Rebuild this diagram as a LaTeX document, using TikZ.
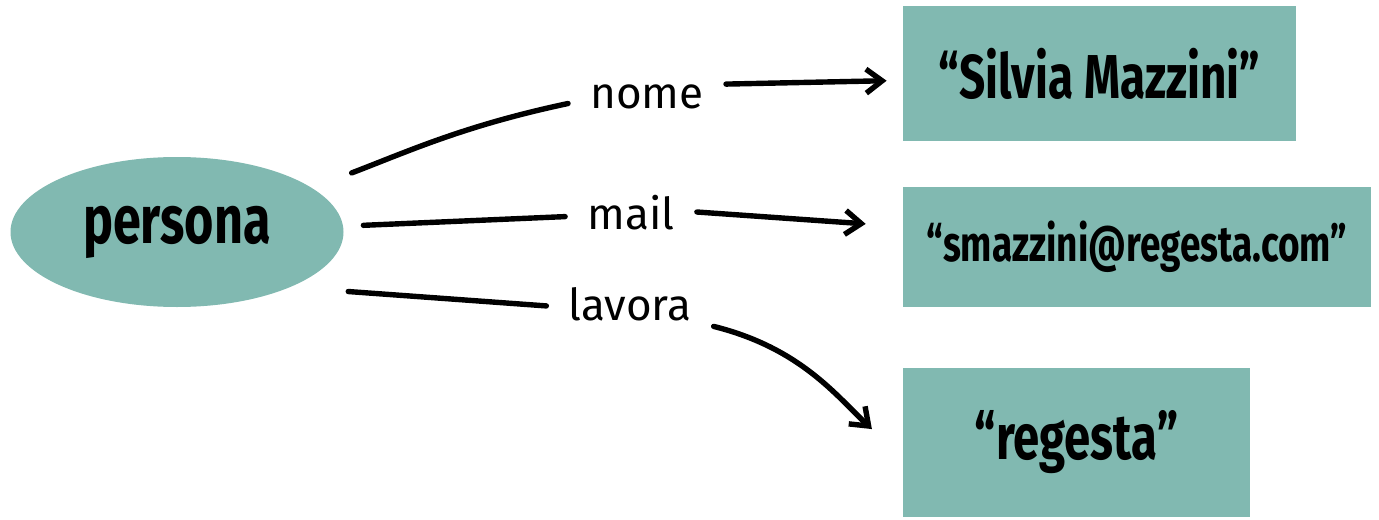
\documentclass[tikz,border=0pt]{standalone}
\usepackage{fontspec}
\setmainfont{Fira Sans}
\newfontfamily\condfont{Fira Sans}[FakeStretch=0.74]
\usetikzlibrary{arrows.meta,shapes.geometric}
\definecolor{sage}{RGB}{129,185,177}

\begin{document}
\begin{tikzpicture}[x=0.5pt,y=0.5pt,
  obj/.style={fill=sage,inner sep=0pt},
  lbl/.style={inner xsep=11pt,inner ysep=3pt,text height=17pt,text depth=0pt,
    font=\fontsize{22}{26}\selectfont,anchor=base},
  link/.style={line width=2.7pt,line cap=round},
  arr/.style={link,-{Straight Barb[length=8pt,width=12pt]}}]
\useasboundingbox (0,0) rectangle (1379,-519);
\node[obj,ellipse,minimum width=166.5pt,minimum height=75pt,
  font=\condfont\bfseries\fontsize{34}{40}\selectfont] (per) at (177,-232) {persona};
\node[lbl] (nome) at (647,-108) {nome};
\node[lbl] (mail) at (631,-229) {mail};
\node[lbl] (lav) at (630,-320) {lavora};
\node[obj,minimum width=196.5pt,minimum height=67.5pt,
  font=\condfont\bfseries\fontsize{31}{37}\selectfont] (silv) at (1099.5,-73.5) {“Silvia Mazzini”};
\node[obj,minimum width=234pt,minimum height=60pt,
  font=\condfont\bfseries\fontsize{25}{30}\selectfont] (smail) at (1137,-247) {“smazzini@regesta.com”};
\node[obj,minimum width=173.5pt,minimum height=74.5pt,
  font=\condfont\bfseries\fontsize{32}{38}\selectfont] (reg) at (1076.5,-442.5) {“regesta”};
% nome
\draw[link,shorten <=21pt] (per.18) to[out=21,in=192] (nome.189);
\draw[arr,shorten >=8pt] (nome.5) -- (silv.182);
% mail
\draw[link,shorten <=10pt] (per.2) -- (mail.184);
\draw[arr,shorten >=18.5pt] (mail.east) -- (smail.175);
% lavora
\draw[link,shorten <=29pt] (per.-26) -- (lav.182);
\draw[arr,shorten >=21pt] (lav.south east) to[out=-14,in=137] (reg.185);
\end{tikzpicture}
\end{document}
